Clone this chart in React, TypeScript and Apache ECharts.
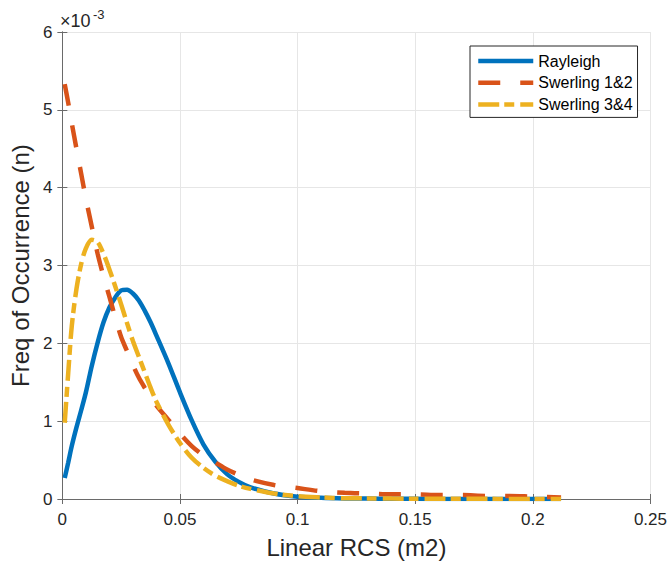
import React, { useEffect, useRef } from "react";
import * as echarts from "echarts";

const xValues = [0.001, 0.0025, 0.004, 0.006, 0.008, 0.01, 0.0125, 0.015, 0.0175, 0.02, 0.0225, 0.025, 0.0275, 0.03, 0.0325, 0.035, 0.0375, 0.04, 0.045, 0.05, 0.055, 0.06, 0.065, 0.07, 0.075, 0.08, 0.09, 0.1, 0.11, 0.12, 0.13, 0.14, 0.15, 0.16, 0.17, 0.18, 0.19, 0.2, 0.212];

// values in units of 1e-3
const rayleigh = [0.27, 0.47, 0.68, 0.92, 1.14, 1.37, 1.71, 2.01, 2.27, 2.46, 2.59, 2.68, 2.69, 2.64, 2.55, 2.42, 2.27, 2.1, 1.75, 1.37, 1.01, 0.7, 0.48, 0.32, 0.22, 0.15, 0.07, 0.03, 0.015, 0.008, 0.005, 0.003, 0.002, 0.001, 0.001, 0, 0, 0, 0];
const swerling12 = [5.33, 5.09, 4.83, 4.5, 4.18, 3.86, 3.5, 3.15, 2.86, 2.6, 2.33, 2.08, 1.9, 1.72, 1.56, 1.43, 1.31, 1.2, 1.02, 0.84, 0.68, 0.56, 0.47, 0.38, 0.31, 0.25, 0.18, 0.14, 0.1, 0.08, 0.07, 0.06, 0.06, 0.05, 0.05, 0.04, 0.04, 0.03, 0.02];
const swerling34 = [0.98, 1.62, 2.22, 2.7, 3.02, 3.22, 3.33, 3.3, 3.15, 2.95, 2.73, 2.5, 2.26, 2.03, 1.83, 1.63, 1.43, 1.25, 0.96, 0.72, 0.53, 0.4, 0.3, 0.23, 0.17, 0.13, 0.07, 0.035, 0.02, 0.01, 0.008, 0.005, 0.004, 0.003, 0.002, 0.002, 0.001, 0.001, 0];

const seriesNames = ["Rayleigh", "Swerling 1&2", "Swerling 3&4"];
const xTickLabels = ["0", "0.05", "0.1", "0.15", "0.2", "0.25"];
const yTickLabels = ["0", "1", "2", "3", "4", "5", "6"];

const FONT = "'Liberation Sans', Arial, Helvetica, sans-serif";
const TEXT = "#262626";
const AXIS = "#6a6a6a";
const GRID = "#e6e6e6";

export default function App() {
  const ref = useRef<HTMLDivElement>(null);
  useEffect(() => {
    if (!ref.current) return;
    const chart = echarts.init(ref.current, null, { renderer: "svg" });
    const pairs = (ys: number[]) => xValues.map((x, i) => [x, ys[i]]);
    const boxAxisCommon = {
      axisLine: { show: true, lineStyle: { color: AXIS, width: 1 } },
      axisTick: { show: true, inside: true, length: 5, lineStyle: { color: AXIS } },
      axisLabel: { show: false },
      splitLine: { show: false },
    };
    chart.setOption({
      animation: false,
      backgroundColor: "#ffffff",
      textStyle: { fontFamily: FONT },
      grid: { left: 59, top: 32, right: 19, bottom: 65, containLabel: false },
      legend: {
        orient: "vertical",
        left: 470,
        top: 46,
        padding: [7, 5, 5, 6],
        itemGap: 5.7,
        itemWidth: 55,
        itemHeight: 16,
        backgroundColor: "#ffffff",
        borderColor: "#262626",
        borderWidth: 1,
        borderRadius: 0,
        textStyle: { fontSize: 16, color: "#000", fontFamily: FONT },
        lineStyle: { width: 4.5 },
        itemStyle: { opacity: 0, borderWidth: 0 },
        data: seriesNames,
      },
      graphic: [
        { type: "text", left: 60, top: 12, style: { text: "×10", fontSize: 18, fill: TEXT, font: `18px ${FONT}` } },
        { type: "text", left: 93, top: 8, style: { text: "-3", fontSize: 13, fill: TEXT, font: `13px ${FONT}` } },
      ],
      xAxis: [
        {
          type: "value",
          min: 0,
          max: 0.25,
          interval: 0.05,
          name: "Linear RCS (m2)",
          nameLocation: "middle",
          nameGap: 36,
          nameTextStyle: { fontSize: 24, color: TEXT, fontFamily: FONT },
          axisLine: { show: true, lineStyle: { color: AXIS, width: 1 } },
          axisTick: { show: true, inside: true, length: 5, lineStyle: { color: AXIS } },
          axisLabel: {
            fontSize: 17,
            color: TEXT,
            margin: 12,
            formatter: (v: number) => xTickLabels[Math.round(v / 0.05)] ?? "",
          },
          splitLine: { show: true, lineStyle: { color: GRID, width: 1 } },
        },
        { type: "value", position: "top", min: 0, max: 0.25, interval: 0.05, ...boxAxisCommon },
      ],
      yAxis: [
        {
          type: "value",
          min: 0,
          max: 6,
          interval: 1,
          name: "Freq of Occurrence (n)",
          nameLocation: "middle",
          nameGap: 26,
          nameTextStyle: { fontSize: 24, color: TEXT, fontFamily: FONT },
          axisLine: { show: true, lineStyle: { color: AXIS, width: 1 } },
          axisTick: { show: true, inside: true, length: 5, lineStyle: { color: AXIS } },
          axisLabel: {
            fontSize: 17,
            color: TEXT,
            margin: 10,
            formatter: (v: number) => yTickLabels[Math.round(v)] ?? "",
          },
          splitLine: { show: true, lineStyle: { color: GRID, width: 1 } },
        },
        { type: "value", position: "right", min: 0, max: 6, interval: 1, ...boxAxisCommon },
      ],
      series: [
        {
          name: seriesNames[0],
          type: "line",
          data: pairs(rayleigh),
          symbol: "none",
          smooth: 0.3,
          lineStyle: { color: "#0072BD", width: 4.5, type: "solid" },
          itemStyle: { color: "#0072BD" },
        },
        {
          name: seriesNames[1],
          type: "line",
          data: pairs(swerling12),
          symbol: "none",
          smooth: 0.3,
          lineStyle: { color: "#D95319", width: 4.5, type: [22, 20] },
          itemStyle: { color: "#D95319" },
        },
        {
          name: seriesNames[2],
          type: "line",
          data: pairs(swerling34),
          symbol: "none",
          smooth: 0.3,
          lineStyle: { color: "#EDB120", width: 4.5, type: [21, 5, 10, 6] },
          itemStyle: { color: "#EDB120" },
        },
      ],
    });
    return () => chart.dispose();
  }, []);
  return (
    <div
      ref={ref}
      style={{ position: "absolute", left: 0, top: 0, width: 670, height: 564, background: "#fff" }}
    />
  );
}
